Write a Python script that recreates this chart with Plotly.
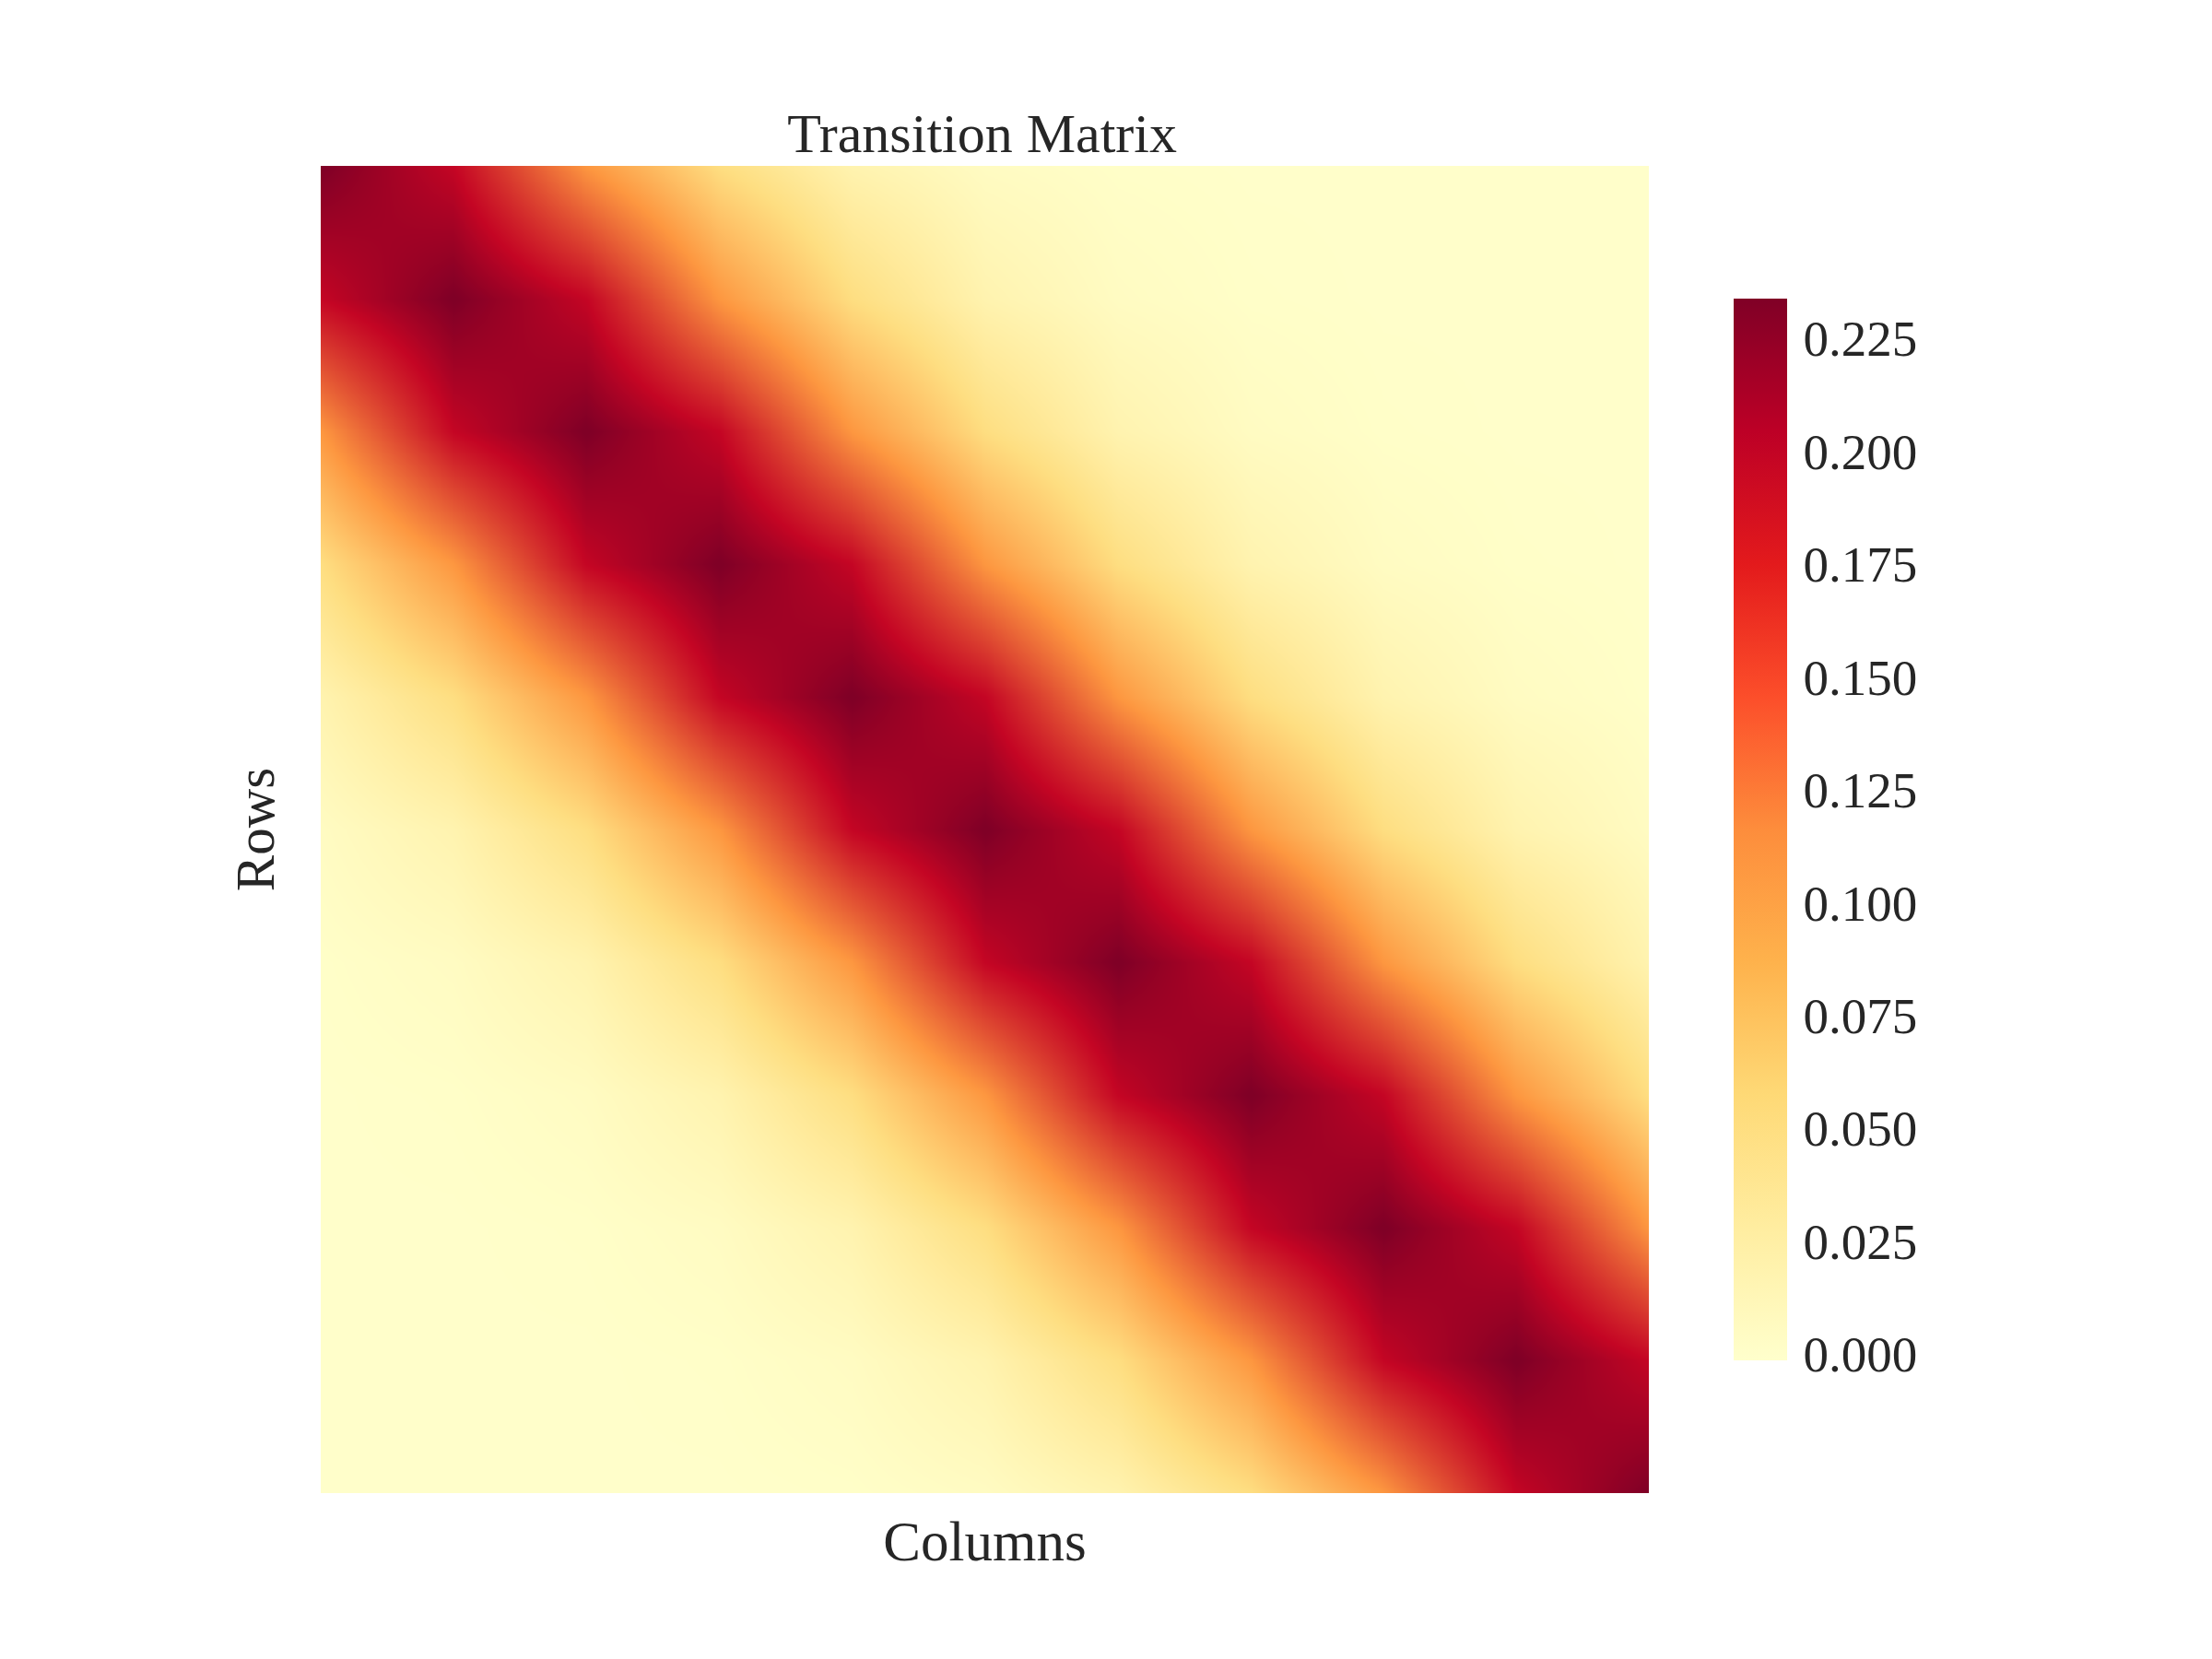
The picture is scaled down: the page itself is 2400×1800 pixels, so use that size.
import plotly.graph_objects as go

columns = [0, 1, 2, 3, 4, 5, 6, 7, 8, 9, 10]
rows = [0, 1, 2, 3, 4, 5, 6, 7, 8, 9, 10]
matrix = [
    [0.235, 0.199, 0.108, 0.050, 0.018, 0.005, 0.001, 0.000, 0.000, 0.000, 0.000],
    [0.199, 0.235, 0.199, 0.108, 0.050, 0.018, 0.005, 0.001, 0.000, 0.000, 0.000],
    [0.108, 0.199, 0.235, 0.199, 0.108, 0.050, 0.018, 0.005, 0.001, 0.000, 0.000],
    [0.050, 0.108, 0.199, 0.235, 0.199, 0.108, 0.050, 0.018, 0.005, 0.001, 0.000],
    [0.018, 0.050, 0.108, 0.199, 0.235, 0.199, 0.108, 0.050, 0.018, 0.005, 0.001],
    [0.005, 0.018, 0.050, 0.108, 0.199, 0.235, 0.199, 0.108, 0.050, 0.018, 0.005],
    [0.001, 0.005, 0.018, 0.050, 0.108, 0.199, 0.235, 0.199, 0.108, 0.050, 0.018],
    [0.000, 0.001, 0.005, 0.018, 0.050, 0.108, 0.199, 0.235, 0.199, 0.108, 0.050],
    [0.000, 0.000, 0.001, 0.005, 0.018, 0.050, 0.108, 0.199, 0.235, 0.199, 0.108],
    [0.000, 0.000, 0.000, 0.001, 0.005, 0.018, 0.050, 0.108, 0.199, 0.235, 0.199],
    [0.000, 0.000, 0.000, 0.000, 0.001, 0.005, 0.018, 0.050, 0.108, 0.199, 0.235],
]
cell_levels = [0.000, 0.001, 0.005, 0.018, 0.050, 0.108, 0.199, 0.235]
ylorrd = ["#ffffcc", "#ffeda0", "#fed976", "#feb24c", "#fd8d3c",
          "#fc4e2a", "#e31a1c", "#bd0026", "#800026"]
ZMIN, ZMAX = -0.0014, 0.2338
scale = [[i / 8, c] for i, c in enumerate(ylorrd)]


def colour_at(t):
    t = min(max(t, 0.0), 1.0) * 8
    i = min(int(t), 7)
    f = t - i
    a = [int(ylorrd[i][k:k + 2], 16) for k in (1, 3, 5)]
    b = [int(ylorrd[i + 1][k:k + 2], 16) for k in (1, 3, 5)]
    return "rgb(%d,%d,%d)" % tuple(round(p + (q - p) * f) for p, q in zip(a, b))


# The reference blends colours straight between grid nodes, so the drawn layer
# uses a scale with stops at the node levels; the colour bar keeps the full scale.
node_stops = sorted({0.0, 1.0} | {(v - ZMIN) / (ZMAX - ZMIN) for v in cell_levels if v < ZMAX})
node_scale = [[s, colour_at(s)] for s in node_stops]

INK = "#262626"
FONT = "Liberation Serif"

fig = go.Figure()
fig.add_trace(go.Heatmap(
    z=matrix, x=columns, y=rows, zsmooth="best", colorscale=scale,
    zmin=ZMIN, zmax=ZMAX, hoverinfo="skip",
    colorbar=dict(
        x=(1881 - 348) / 1441, xanchor="left", xref="paper", xpad=0,
        y=0.5, yanchor="middle", yref="paper", ypad=0,
        thickness=58, thicknessmode="pixels", len=1152, lenmode="pixels",
        outlinewidth=0, ticks="outside", ticklen=7, tickcolor="rgba(0,0,0,0)",
        tick0=0, dtick=0.025, tickformat=".3f",
        tickfont=dict(family=FONT, size=55, color=INK),
    ),
))
fig.add_trace(go.Heatmap(
    z=matrix, x=columns, y=rows, zsmooth="best", colorscale=node_scale,
    zmin=ZMIN, zmax=ZMAX, showscale=False,
))
fig.update_layout(
    width=2400, height=1800, autosize=False,
    margin=dict(l=340, r=619, t=172, b=188),
    paper_bgcolor="white", plot_bgcolor="white",
    font=dict(family=FONT, color=INK),
    title=dict(text="Transition Matrix", xref="paper", x=0.498, xanchor="center",
               yref="paper", y=1, yanchor="bottom", pad=dict(b=15),
               font=dict(family=FONT, size=60, color=INK)),
    xaxis=dict(range=[0, 10], showticklabels=False, ticks="", showgrid=False, zeroline=False,
               title=dict(text="Columns", standoff=30, font=dict(family=FONT, size=61, color=INK))),
    yaxis=dict(range=[10, 0], showticklabels=False, ticks="", showgrid=False, zeroline=False,
               title=dict(text="Rows", standoff=30, font=dict(family=FONT, size=59, color=INK))),
)
fig.write_html("out.html")
